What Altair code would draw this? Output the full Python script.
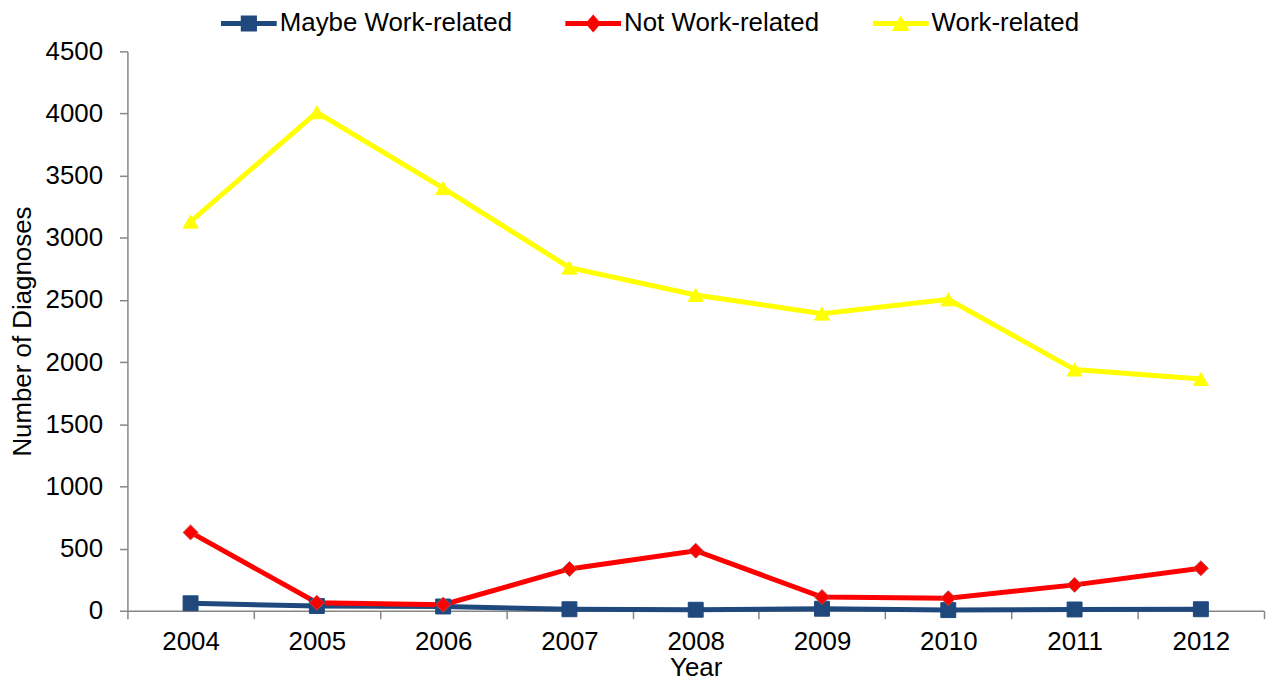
import altair as alt
import pandas as pd

years = ["2004", "2005", "2006", "2007", "2008", "2009", "2010", "2011", "2012"]
maybe_work = [60, 38, 34, 12, 8, 16, 5, 10, 12]
not_work = [630, 64, 48, 336, 483, 110, 101, 208, 342]
work = [3130, 4010, 3400, 2760, 2540, 2390, 2505, 1940, 1865]

series_names = ["Maybe Work-related", "Not Work-related", "Work-related"]
series_colors = ["#1F497D", "#FF0000", "#FFFF00"]
marker_strokes = ["#1F497D", "#B84B48", "#FFFF00"]
marker_shapes = ["square", "diamond", "triangle-up"]
legend_shapes = [
    "M-1,-0.09H1V0.09H-1Z M-0.29,-0.29H0.29V0.29H-0.29Z",
    "M-1,-0.09H1V0.09H-1Z M0,-0.32L0.28,0L0,0.32L-0.28,0Z",
    "M-1,-0.09H1V0.09H-1Z M0,-0.3L0.32,0.27H-0.32Z",
]
y_ticks = [0, 500, 1000, 1500, 2000, 2500, 3000, 3500, 4000, 4500]

rows = []
for name, vals in zip(series_names, [maybe_work, not_work, work]):
    for yr, v in zip(years, vals):
        rows.append({"Year": yr, "Count": v, "Series": name})
df = pd.DataFrame(rows)

FONT = "Liberation Sans"

x_enc = alt.X(
    "Year:O",
    bandPosition=0.5,
    scale=alt.Scale(type="band", paddingInner=0, paddingOuter=0),
    axis=alt.Axis(title="Year", labelAngle=0, tickBand="extent", tickSize=8,
                  labelPadding=10, titlePadding=0),
)
y_enc = alt.Y(
    "Count:Q",
    scale=alt.Scale(domain=[0, 4500], nice=False),
    axis=alt.Axis(title="Number of Diagnoses", values=y_ticks, format="d", grid=False, tickSize=8,
                  labelPadding=17, titlePadding=10),
)

base = alt.Chart(df)

lines = base.mark_line(strokeWidth=5).encode(
    x=x_enc,
    y=y_enc,
    color=alt.Color("Series:N", scale=alt.Scale(domain=series_names, range=series_colors), legend=None),
)

points = base.mark_point(filled=True, size=225, opacity=1, strokeWidth=1).encode(
    x=x_enc,
    y=y_enc,
    color=alt.Color("Series:N", scale=alt.Scale(domain=series_names, range=series_colors), legend=None),
    stroke=alt.Stroke("Series:N", scale=alt.Scale(domain=series_names, range=marker_strokes), legend=None),
    shape=alt.Shape("Series:N", scale=alt.Scale(domain=series_names, range=marker_shapes), legend=None),
)

leg = alt.Legend(
    title=None, orient="none", legendX=94, legendY=-56, direction="horizontal",
    labelFont=FONT, labelFontSize=26, labelColor="#000000", labelLimit=0, symbolSize=3136,
    columnPadding=53, labelOffset=3, symbolStrokeWidth=0, padding=0,
)

legend_layer = base.transform_filter("false").mark_point(filled=True, opacity=1).encode(
    color=alt.Color("Series:N", scale=alt.Scale(domain=series_names, range=series_colors), legend=leg),
    shape=alt.Shape("Series:N", scale=alt.Scale(domain=series_names, range=legend_shapes), legend=leg),
)

chart = alt.layer(lines, points, legend_layer).resolve_scale(
    color="independent", shape="independent", stroke="independent"
).properties(
    width=1142,
    height=562,
    autosize=alt.AutoSizeParams(type="none"),
    padding={"left": 120, "top": 42, "right": 2, "bottom": 68},
).configure_view(stroke=None).configure_axis(
    labelFont=FONT, labelFontSize=26, labelColor="#000000",
    titleFont=FONT, titleFontSize=26, titleFontWeight="normal", titleColor="#000000",
    domainColor="#868686", tickColor="#868686", domainWidth=1.5, tickWidth=1.5,
)

chart.save("out.html", embed_options={"renderer": "svg", "actions": False})
